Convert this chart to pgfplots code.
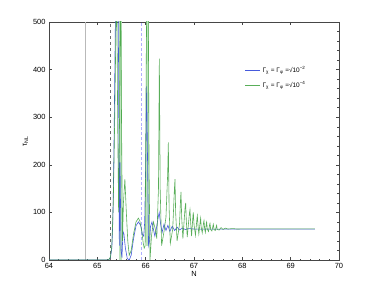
\documentclass[border=0pt]{standalone}
\usepackage{fontspec}
\setmainfont{Liberation Sans}
\usepackage{pgfplots}
\pgfplotsset{compat=1.18}
\definecolor{cblue}{RGB}{70,90,220}
\definecolor{cgreen}{RGB}{60,160,60}
\definecolor{lgreen}{RGB}{190,228,190}
\definecolor{lblue}{RGB}{175,175,255}
\definecolor{lgray}{RGB}{185,185,185}
\definecolor{dgray}{RGB}{110,110,110}
\definecolor{frame}{RGB}{70,70,70}
\begin{document}
\begin{tikzpicture}
\path[use as bounding box] (0,0) rectangle (374bp,293bp);
\begin{axis}[
  at={(49bp,33bp)}, anchor=south west,
  width=290bp, height=238bp, scale only axis,
  xmin=64, xmax=70, ymin=0, ymax=500,
  xtick={64,65,...,70}, ytick={0,100,...,500},
  minor x tick num=4, minor y tick num=4,
  tick align=inside, major tick length=3bp, minor tick length=1.5bp,
  axis line style={frame, line width=0.6pt},
  every tick/.style={frame, line width=0.4pt},
  /pgf/number format/assume math mode=true,
  /pgf/number format/1000 sep={},
  tick label style={font=\fontsize{7.5}{9}\selectfont},
  label style={font=\fontsize{7.5}{9}\selectfont},
  xlabel={N}, ylabel={τ\textsubscript{NL}},
  xlabel style={yshift=4bp},
  ylabel style={yshift=-2bp},
  clip=true,
  legend style={at={(0.665,0.83)}, anchor=north west, draw=none, fill=none,
    font=\fontsize{6.5}{8}\selectfont, row sep=4bp},
  legend cell align=left,
  legend image code/.code={\draw[#1] (0bp,0bp) -- (15bp,0bp);},
]
% vertical markers
\addplot[forget plot, draw=lgray, line width=0.8pt] coordinates {(64.745,0) (64.745,500)};
\addplot[forget plot, draw=dgray, dashed, line width=0.5pt] coordinates {(65.277,0) (65.277,500)};
\addplot[forget plot, draw=lblue, dash pattern=on 3pt off 2pt, line width=0.9pt] coordinates {(65.92,0) (65.92,500)};
\addplot[forget plot, draw=lgreen, line width=3.5bp] coordinates {(66.035,30) (66.035,520)};
\addplot[forget plot, draw=lgreen, line width=2.5bp] coordinates {(65.475,0) (65.475,520)};
% blue series
\addplot[color=cblue, line width=0.6pt] coordinates {
(64,0) (65.20,0) (65.24,1) (65.27,5) (65.30,25) (65.32,80) (65.34,200) (65.36,380) (65.38,560)
(65.42,700) (65.44,400) (65.455,30) (65.47,205) (65.49,20) (65.51,5) (65.53,60) (65.55,55)
(65.58,25) (65.62,3) (65.66,0) (65.70,10) (65.75,45) (65.80,72) (65.85,80) (65.90,72)
(65.93,55) (65.96,50) (65.98,80) (66.00,200) (66.02,365) (66.04,200) (66.06,30) (66.08,40)
(66.10,70) (66.13,80) (66.16,65) (66.19,50) (66.22,65) (66.26,90) (66.28,100) (66.31,75)
(66.34,58) (66.38,75) (66.42,62) (66.46,73) (66.50,60) (66.55,71) (66.60,62) (66.65,69)
(66.70,63) (66.76,67) (66.82,64) (66.90,66) (67.0,65) (67.2,65) (69.5,65)
};
\addlegendentry{Γ\textsubscript{χ} = Γ\textsubscript{φ} =√10\textsuperscript{−2}}
% green series
\addplot[color=cgreen, line width=0.6pt, opacity=0.85] coordinates {
(64,0) (65.20,0) (65.24,1) (65.27,6) (65.30,30) (65.33,120) (65.36,300) (65.38,450)
(65.40,600) (65.42,300) (65.44,100) (65.46,300) (65.48,620) (65.50,300) (65.52,40)
(65.54,120) (65.57,170) (65.60,100) (65.63,40) (65.66,10) (65.70,20) (65.75,55) (65.80,80)
(65.85,88) (65.88,82) (65.92,60) (65.95,35) (65.97,25) (65.99,30) (66.01,400) (66.03,620)
(66.05,620) (66.07,200) (66.09,0) (66.12,50) (66.16,80) (66.20,65) (66.23,45) (66.265,150)
(66.283,423) (66.30,150) (66.33,30) (66.38,60) (66.42,90) (66.455,180) (66.469,247)
(66.485,110) (66.51,35) (66.56,65) (66.595,150) (66.607,170) (66.62,100) (66.65,40)
(66.70,75) (66.723,130) (66.731,143) (66.745,90) (66.77,45) (66.815,110) (66.828,120)
(66.84,85) (66.86,48) (66.905,98) (66.917,106) (66.93,80) (66.95,50) (66.978,93) (66.986,100)
(67.0,75) (67.03,52) (67.062,88) (67.069,93) (67.085,70) (67.10,55) (67.132,84) (67.138,88)
(67.15,68) (67.17,57) (67.20,80) (67.207,83) (67.22,66) (67.235,58) (67.256,78) (67.262,80)
(67.275,65) (67.30,60) (67.325,75) (67.331,77) (67.345,64) (67.37,61) (67.395,73) (67.40,75)
(67.415,64) (67.44,62) (67.465,72) (67.469,73) (67.48,64) (67.52,63) (67.56,68) (67.60,64)
(67.65,67) (67.70,65) (67.80,66) (67.90,65) (68.0,65.5) (69.5,65.5)
};
\addlegendentry{Γ\textsubscript{χ} = Γ\textsubscript{φ} =√10\textsuperscript{−4}}
\end{axis}
\end{tikzpicture}
\end{document}
